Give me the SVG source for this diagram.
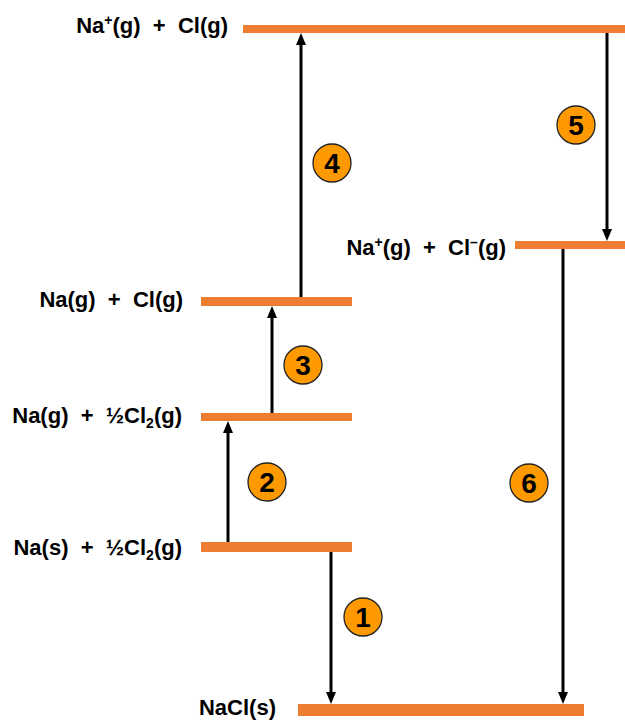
<svg xmlns="http://www.w3.org/2000/svg" width="625" height="720" viewBox="0 0 625 720">
<defs>
<style>
.lvl{fill:#ED7D31}
.lbl{font-family:"Liberation Sans",Arial,sans-serif;font-weight:bold;font-size:22px;fill:#000;text-anchor:end;white-space:pre}
.sup{font-size:14px}
.arr{stroke:#000;stroke-width:3;fill:none;marker-end:url(#ah)}
.badge circle{fill:#FF9900;stroke:#222;stroke-width:1.3}
.badge text{font-family:"Liberation Sans",Arial,sans-serif;font-weight:bold;font-size:28px;fill:#000;text-anchor:middle}
</style>
<marker id="ah" viewBox="0 0 12 10" refX="4" refY="5" markerWidth="12" markerHeight="10" markerUnits="userSpaceOnUse" orient="auto">
<path d="M0,0 L12,5 L0,10 z" fill="#000"/>
</marker>
</defs>
<rect width="625" height="720" fill="#fff"/>

<g id="connectors">
<line class="arr" x1="331" y1="552" x2="331" y2="696"/>
<line class="arr" x1="228" y1="542" x2="228" y2="429"/>
<line class="arr" x1="272" y1="413" x2="272" y2="314"/>
<line class="arr" x1="301" y1="297" x2="301" y2="41"/>
<line class="arr" x1="607" y1="33" x2="607" y2="233"/>
<line class="arr" x1="563" y1="249" x2="563" y2="696"/>
</g>

<g id="level-top">
<rect class="lvl" x="243" y="25" width="382" height="8"/>
<text class="lbl" x="228" y="33">Na<tspan class="sup" dy="-8">+</tspan><tspan dy="8">(g)  +  Cl(g)</tspan></text>
</g>
<g id="level-ions">
<rect class="lvl" x="515" y="241" width="110" height="8"/>
<text class="lbl" x="506" y="255">Na<tspan class="sup" dy="-8">+</tspan><tspan dy="8">(g)  +  Cl</tspan><tspan class="sup" dy="-8">–</tspan><tspan dy="8">(g)</tspan></text>
</g>
<g id="level-atoms">
<rect class="lvl" x="201" y="297" width="151" height="9"/>
<text class="lbl" x="183" y="307">Na(g)  +  Cl(g)</text>
</g>
<g id="level-nag">
<rect class="lvl" x="201" y="413" width="151" height="8"/>
<text class="lbl" x="182" y="423">Na(g)  +  ½Cl<tspan class="sup" dy="5">2</tspan><tspan dy="-5">(g)</tspan></text>
</g>
<g id="level-elements">
<rect class="lvl" x="201" y="542" width="151" height="10"/>
<text class="lbl" x="182" y="555">Na(s)  +  ½Cl<tspan class="sup" dy="5">2</tspan><tspan dy="-5">(g)</tspan></text>
</g>
<g id="level-nacl">
<rect class="lvl" x="298" y="704" width="286" height="12"/>
<text class="lbl" x="276" y="715">NaCl(s)</text>
</g>

<g id="step1" class="badge"><circle cx="363" cy="617" r="19"/><text x="363" y="627">1</text></g>
<g id="step2" class="badge"><circle cx="267" cy="482" r="19"/><text x="267" y="492">2</text></g>
<g id="step3" class="badge"><circle cx="303" cy="365" r="19"/><text x="303" y="375">3</text></g>
<g id="step4" class="badge"><circle cx="332" cy="163" r="19"/><text x="332" y="173">4</text></g>
<g id="step5" class="badge"><circle cx="576" cy="125" r="19"/><text x="576" y="135">5</text></g>
<g id="step6" class="badge"><circle cx="529" cy="483" r="19"/><text x="529" y="493">6</text></g>
</svg>
